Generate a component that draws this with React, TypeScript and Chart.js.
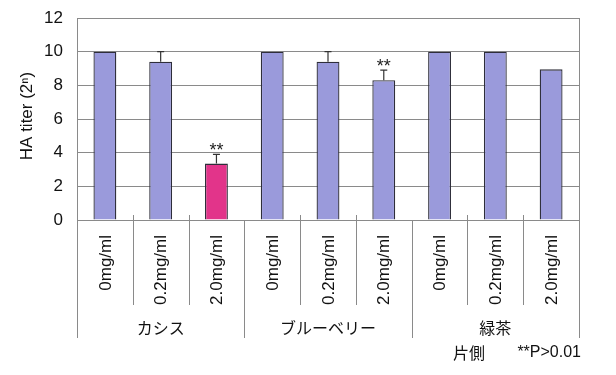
import React, { useEffect, useRef } from 'react';
import { Chart, registerables } from 'chart.js';

Chart.register(...registerables);

const doses = ['0mg/ml', '0.2mg/ml', '2.0mg/ml', '0mg/ml', '0.2mg/ml', '2.0mg/ml', '0mg/ml', '0.2mg/ml', '2.0mg/ml'];
const groups = ['カシス', 'ブルーベリー', '緑茶'];
const titer = [10, 9.4, 3.35, 10, 9.4, 8.3, 10, 10, 8.95];
const errUpper = [0, 0.6, 0.55, 0, 0.6, 0.6, 0, 0, 0];
const marks = ['', '', '**', '', '', '**', '', '', ''];
const highlighted = [false, false, true, false, false, false, false, false, false];
const yTitle = 'HA titer (2ⁿ)';
const footLeft = '片側';
const footRight = '**P>0.01';

const LAT = '"Liberation Sans", Arial, sans-serif';
const JP = '"Noto Sans CJK JP", sans-serif';

const overlay = {
  id: 'overlay',
  afterDatasetsDraw(chart: any) {
    const ctx = chart.ctx as CanvasRenderingContext2D;
    const { left, right, top, bottom } = chart.chartArea;
    const y = chart.scales.y;
    ctx.save();

    // right border of plot
    ctx.strokeStyle = '#8a8a8a';
    ctx.lineWidth = 1;
    ctx.beginPath();
    ctx.moveTo(Math.round(right) + 0.5, top);
    ctx.lineTo(Math.round(right) + 0.5, bottom);
    ctx.stroke();

    // error bars & significance marks
    const meta = chart.getDatasetMeta(0);
    meta.data.forEach((bar: any, i: number) => {
      const yTop = y.getPixelForValue(titer[i] + errUpper[i]);
      if (errUpper[i] > 0) {
        ctx.strokeStyle = '#333';
        ctx.lineWidth = 1.2;
        ctx.beginPath();
        ctx.moveTo(bar.x, bar.y);
        ctx.lineTo(bar.x, yTop);
        ctx.moveTo(bar.x - 3.5, yTop);
        ctx.lineTo(bar.x + 3.5, yTop);
        ctx.stroke();
      }
      if (marks[i]) {
        ctx.fillStyle = '#222';
        ctx.font = `18px ${LAT}`;
        ctx.textAlign = 'center';
        ctx.textBaseline = 'alphabetic';
        ctx.fillText(marks[i], bar.x, yTop + 2);
      }
    });

    // category separators and group dividers
    const n = doses.length;
    const catW = (right - left) / n;
    ctx.strokeStyle = '#8a8a8a';
    ctx.lineWidth = 1;
    for (let i = 0; i <= n; i++) {
      const xx = Math.round(left + i * catW) + 0.5;
      ctx.beginPath();
      if (i % 3 === 0) {
        ctx.moveTo(xx, bottom);
        ctx.lineTo(xx, 338);
      } else {
        ctx.moveTo(xx, bottom - 5);
        ctx.lineTo(xx, 305);
      }
      ctx.stroke();
    }

    // rotated dose labels
    ctx.fillStyle = '#111';
    ctx.font = `17px ${LAT}`;
    doses.forEach((d, i) => {
      const cx = left + (i + 0.5) * catW + 1;
      ctx.save();
      ctx.translate(cx, 235);
      ctx.rotate(-Math.PI / 2);
      ctx.textAlign = 'right';
      ctx.textBaseline = 'middle';
      ctx.fillText(d, 0, 0);
      ctx.restore();
    });

    // group labels
    ctx.font = `16px ${JP}`;
    ctx.textAlign = 'center';
    ctx.textBaseline = 'middle';
    groups.forEach((g, gi) => {
      const cx = left + (gi * 3 + 1.5) * catW;
      ctx.fillText(g, cx, 328);
    });

    // footnote
    ctx.font = `16px ${JP}`;
    ctx.textAlign = 'center';
    ctx.fillText(footLeft, 469, 353);
    ctx.font = `16px ${LAT}`;
    ctx.textAlign = 'right';
    ctx.fillText(footRight, 581, 353);

    // y title
    ctx.save();
    ctx.translate(27, 116);
    ctx.rotate(-Math.PI / 2);
    ctx.font = `17px ${LAT}`;
    ctx.textAlign = 'center';
    ctx.textBaseline = 'middle';
    ctx.fillText(yTitle, 0, 0);
    ctx.restore();

    ctx.restore();
  },
};

export default function App() {
  const ref = useRef<HTMLCanvasElement>(null);
  useEffect(() => {
    if (!ref.current) return;
    const chart = new Chart(ref.current, {
      type: 'bar',
      data: {
        labels: doses,
        datasets: [
          {
            data: titer,
            backgroundColor: highlighted.map((h) => (h ? '#E2348A' : '#9A9ADB')),
            borderColor: '#2e2e3a',
            borderWidth: 1.3,
            barPercentage: 0.41,
            categoryPercentage: 1,
          },
        ],
      },
      options: {
        responsive: false,
        animation: false,
        layout: { padding: { top: 18, right: 37, bottom: 155, left: 0 } },
        plugins: { legend: { display: false }, tooltip: { enabled: false } },
        scales: {
          x: { display: false },
          y: {
            min: 0,
            max: 12,
            ticks: {
              stepSize: 2,
              padding: 14,
              color: '#111',
              font: { family: LAT, size: 17 },
            },
            grid: { color: '#8a8a8a', drawTicks: false, lineWidth: 1 },
            border: { display: true, color: '#8a8a8a' },
            afterFit: (scale: any) => {
              scale.width = 77;
              scale.paddingTop = 0;
              scale.paddingBottom = 0;
            },
          },
        },
      },
      plugins: [overlay],
    });
    return () => chart.destroy();
  }, []);
  return (
    <div style={{ position: 'fixed', left: 0, top: 0, width: 616, height: 375, background: '#fff' }}>
      <canvas ref={ref} width={616} height={375} />
    </div>
  );
}
